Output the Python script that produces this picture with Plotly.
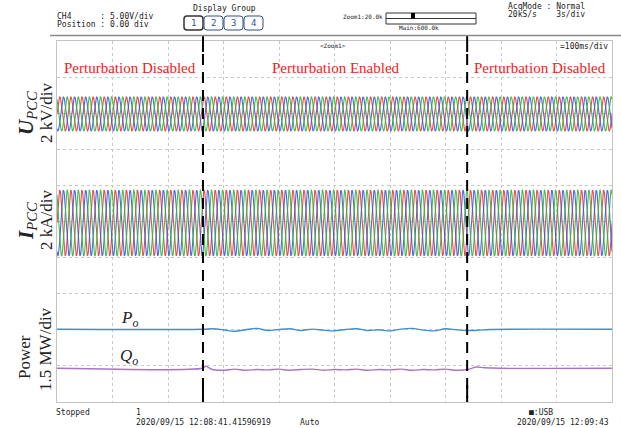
import numpy as np
import plotly.graph_objects as go

# ---- screen geometry (pixels) ----
W, H = 621, 428
L, R, T, B = 57, 612, 41, 402

# ---- time base: 100 ms/div over 10 divisions ----
t_span = [0.0, 1.0]
freq_hz = 50.0
samples_per_cycle = 40

# vertical positions/amplitudes in divisions (0 = bottom, 10 = top)
u_center, u_amp = 7.98, 0.47
i_center, i_amp = 4.96, 0.91
phase_deg = [0, -120, 120]
phase_colors = ["#e33c3c", "#3b5bd8", "#35b535"]

# perturbation switching instants (s)
t_on, t_off = 0.263, 0.739

# active / reactive power traces (div)
p_time = [0.0, 0.263, 0.28, 0.30, 0.32, 0.34, 0.36, 0.38, 0.40, 0.42, 0.44, 0.46,
          0.48, 0.50, 0.52, 0.54, 0.56, 0.58, 0.60, 0.62, 0.64, 0.66, 0.68, 0.70,
          0.72, 0.74, 0.76, 0.78, 1.0]
p_vals = [2.014, 2.014, 2.03, 2.00, 1.96, 2.00, 2.04, 1.98, 2.01, 2.03, 1.98, 2.02,
          1.99, 1.97, 2.01, 2.03, 1.98, 2.00, 1.97, 2.02, 2.04, 1.99, 1.97, 2.03,
          2.00, 1.98, 1.99, 2.01, 2.014]
q_time = [0.0, 0.262, 0.268, 0.28, 0.30, 0.32, 0.34, 0.36, 0.38, 0.40, 0.42, 0.44,
          0.46, 0.48, 0.50, 0.52, 0.54, 0.56, 0.58, 0.60, 0.62, 0.64, 0.66, 0.68,
          0.70, 0.72, 0.74, 0.755, 0.77, 0.80, 1.0]
q_vals = [0.934, 0.934, 0.99, 0.90, 0.88, 0.91, 0.88, 0.90, 0.89, 0.91, 0.88, 0.90,
          0.91, 0.88, 0.90, 0.89, 0.91, 0.88, 0.90, 0.89, 0.91, 0.88, 0.90, 0.89,
          0.91, 0.88, 0.90, 0.97, 0.95, 0.934, 0.934]
p_color, q_color = "#3d8fd1", "#a873cf"

ink = "#222222"
mono = "DejaVu Sans Mono"
serif = "Liberation Serif"


def px(xp):
    return (xp - L) / (R - L)


def py(yp):
    return (B - yp) / (B - T)


fig = go.Figure()

n = int((t_span[1] - t_span[0]) * freq_hz * samples_per_cycle) + 1
t = np.linspace(t_span[0], t_span[1], n)
for center, amp in [(u_center, u_amp), (i_center, i_amp)]:
    for ph, col in zip(phase_deg, phase_colors):
        y = center + amp * np.sin(2 * np.pi * freq_hz * t + np.deg2rad(ph))
        fig.add_trace(go.Scatter(x=t, y=y, mode="lines",
                                 line=dict(color=col, width=1.1),
                                 opacity=0.9, hoverinfo="skip", showlegend=False))

fig.add_trace(go.Scatter(x=p_time, y=p_vals, mode="lines",
                         line=dict(color=p_color, width=1.4, shape="spline", smoothing=0.8),
                         showlegend=False))
fig.add_trace(go.Scatter(x=q_time, y=q_vals, mode="lines",
                         line=dict(color=q_color, width=1.4, shape="spline", smoothing=0.8),
                         showlegend=False))

shapes = []
# zoom cursors: solid tabs at top/bottom, dashed line across the screen
for tc in [t_on, t_off]:
    shapes.append(dict(type="line", xref="x", yref="paper", x0=tc, x1=tc,
                       y0=py(35), y1=py(52), line=dict(color="black", width=2)))
    shapes.append(dict(type="line", xref="x", yref="paper", x0=tc, x1=tc,
                       y0=py(385), y1=py(398), line=dict(color="black", width=2)))
    shapes.append(dict(type="line", xref="x", yref="paper", x0=tc, x1=tc,
                       y0=py(54), y1=py(402),
                       line=dict(color="black", width=2, dash="11px,7px")))

# header separator
shapes.append(dict(type="line", xref="paper", yref="paper", x0=px(50), x1=px(621),
                   y0=py(35.5), y1=py(35.5), line=dict(color="#8a8a8a", width=1.5)))


def rounded_box(x0, y0, x1, y1, r=3):
    X0, X1, Y0, Y1 = px(x0), px(x1), py(y0), py(y1)
    rx, ry = r / (R - L), r / (B - T)
    return (f"M {X0+rx},{Y0} L {X1-rx},{Y0} Q {X1},{Y0} {X1},{Y0-ry} "
            f"L {X1},{Y1+ry} Q {X1},{Y1} {X1-rx},{Y1} L {X0+rx},{Y1} "
            f"Q {X0},{Y1} {X0},{Y1+ry} L {X0},{Y0-ry} Q {X0},{Y0} {X0+rx},{Y0} Z")


# display group buttons
group_boxes = [(184, 203), (204, 223), (224, 243), (244, 263)]
for k, (a, b) in enumerate(group_boxes):
    shapes.append(dict(type="path", xref="paper", yref="paper",
                       path=rounded_box(a, 16, b, 30),
                       line=dict(color="#333333" if k == 0 else "#2f4f8f",
                                 width=1.5 if k == 0 else 1)))

# zoom position bar
shapes.append(dict(type="rect", xref="paper", yref="paper", x0=px(386), x1=px(476),
                   y0=py(13), y1=py(24), line=dict(color="#333", width=1)))
shapes.append(dict(type="line", xref="paper", yref="paper", x0=px(386), x1=px(476),
                   y0=py(18.5), y1=py(18.5), line=dict(color="#333", width=1)))
shapes.append(dict(type="rect", xref="paper", yref="paper", x0=px(411), x1=px(415),
                   y0=py(13), y1=py(18.5), fillcolor="black", line=dict(width=0)))

ann = []


def text(x, y, s, size=8, font=mono, color=ink, xa="left", ya="middle", angle=0):
    ann.append(dict(x=px(x), y=py(y), xref="paper", yref="paper", text=s,
                    showarrow=False, xanchor=xa, yanchor=ya, textangle=angle,
                    font=dict(family=font, size=size, color=color)))


# instrument header
text(55, 16.5, "CH4      : 5.00V/div")
text(55, 24.5, "Position : 0.00 div")
text(224, 9, "Display Group", xa="center")
for k, (a, b) in enumerate(group_boxes):
    text((a + b) / 2, 23, str(k + 1), size=9, color="#2f4f9f", xa="center")
text(385, 16, "Zoom1:20.0k", size=6, xa="right")
text(397, 28, "Main:600.0k", size=6)
text(506, 6, "AcqMode : Normal")
text(506, 14, "20kS/s    3s/div")
text(333, 46, "<Zoom1>", size=6, xa="center")
text(610, 46.5, "=100ms/div", size=8, xa="right")

# footer
text(54, 412, "Stopped")
text(134, 412, "1")
text(134, 422.5, "2020/09/15 12:08:41.41596919")
text(298, 422.5, "Auto")
text(527, 412, "■:USB")
text(611, 422.5, "2020/09/15 12:09:43", xa="right")

# region labels
red = "#ee1c1c"
text(130, 68, "Perturbation Disabled", size=15, font=serif, color=red, xa="center")
text(336, 68, "Perturbation Enabled", size=15, font=serif, color=red, xa="center")
text(540, 68, "Perturbation Disabled", size=15, font=serif, color=red, xa="center")

# channel scale labels (rotated)
text(27, 113, "<b><i>U</i></b><i><sub>PCC</sub></i>", size=21, font=serif,
     xa="center", angle=-90)
text(46, 113, "2 kV/div", size=17, font=serif, xa="center", angle=-90)
text(27, 221, "<b><i>I</i></b><i><sub>PCC</sub></i>", size=21, font=serif,
     xa="center", angle=-90)
text(46, 220, "2 kA/div", size=17, font=serif, xa="center", angle=-90)
text(24, 357, "Power", size=17, font=serif, xa="center", angle=-90)
text(45, 349, "1.5 MW/div", size=17, font=serif, xa="center", angle=-90)

# trace labels
text(129, 319, "<i>P<sub>o</sub></i>", size=17, font=serif, xa="center")
text(129, 357, "<i>Q<sub>o</sub></i>", size=17, font=serif, xa="center")

grid = dict(showgrid=True, gridcolor="#c9c9c9", griddash="dot", gridwidth=1,
            zeroline=False, showticklabels=False, ticks="",
            showline=True, mirror=True, linecolor="#c4c4c4", linewidth=1)

fig.update_layout(
    width=W, height=H,
    margin=dict(l=L, r=W - R, t=T, b=H - B),
    paper_bgcolor="white", plot_bgcolor="white",
    xaxis=dict(range=t_span, dtick=0.1, **grid),
    yaxis=dict(range=[0, 10], dtick=1, **grid),
    shapes=shapes, annotations=ann, showlegend=False,
)

fig.write_html("out.html")
